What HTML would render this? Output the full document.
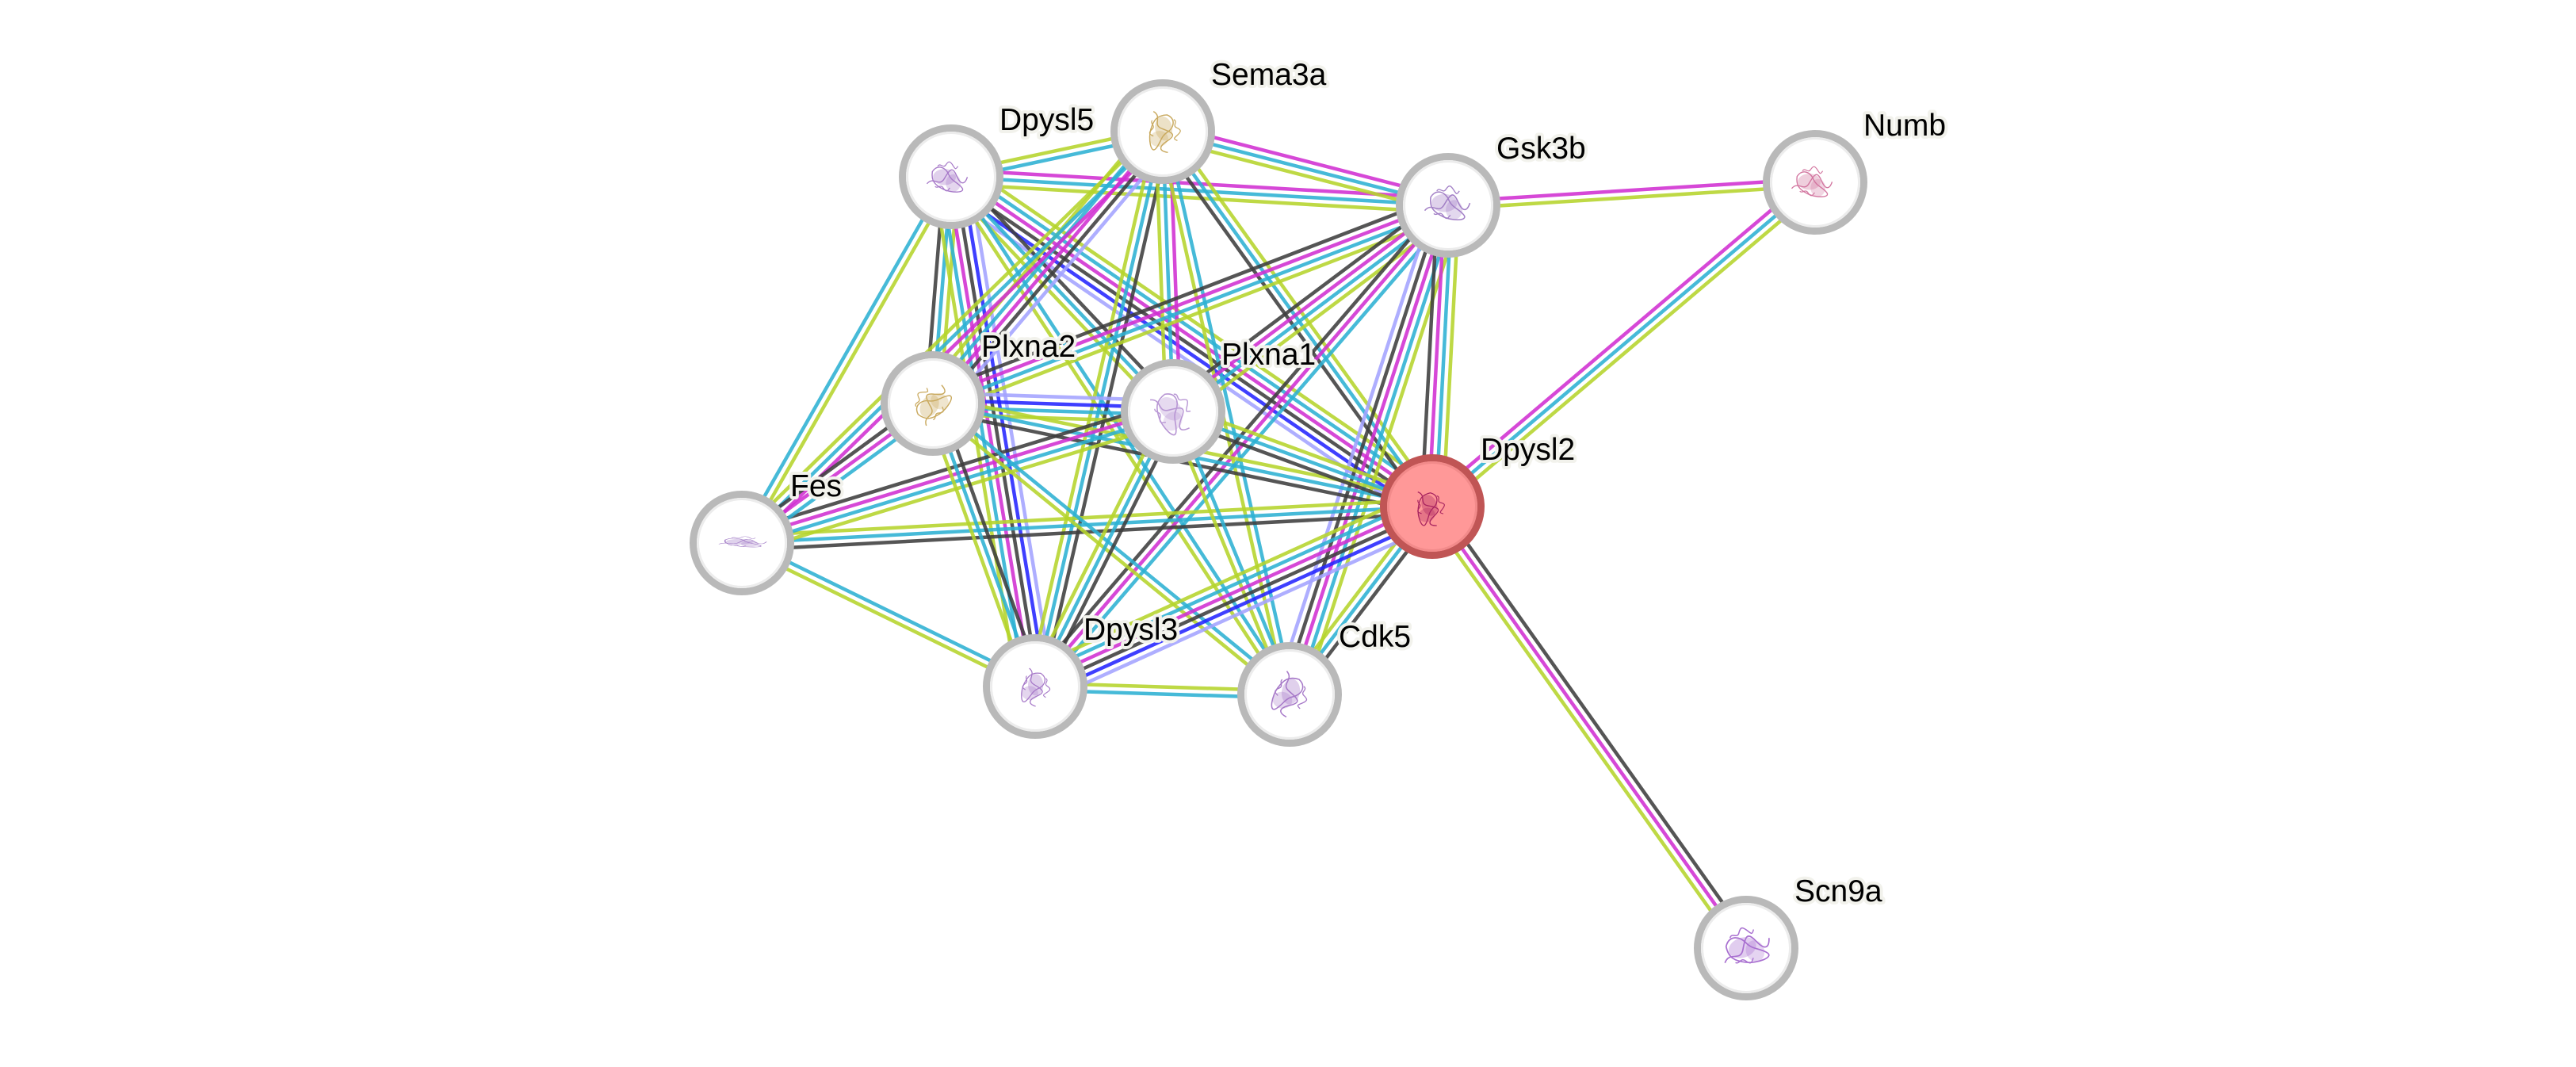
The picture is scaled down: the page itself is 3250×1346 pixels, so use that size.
<!DOCTYPE html>
<html>
<head>
<meta charset="utf-8">
<style>
  html,body{margin:0;padding:0;background:#ffffff;}
  body{width:3250px;height:1346px;overflow:hidden;}
  svg{display:block;}
  line{stroke-width:4.5;stroke-opacity:.88;stroke-linecap:butt;}
  .L{stroke:#a3a3ff}
  .B{stroke:#2424ff}
  .K{stroke:#3e3e3e}
  .M{stroke:#d02fd2}
  .C{stroke:#2cb0d3}
  .Y{stroke:#b5d42b}
  .node{fill:#ffffff;stroke:#b9b9b9;stroke-width:9}
  .inner{fill:none;stroke:#ececec;stroke-width:3}
  .lbl{font-family:"Liberation Sans",Arial,sans-serif;font-size:39px;fill:#000;stroke:#f2f2ec;stroke-width:8px;stroke-linejoin:round;paint-order:stroke;}
</style>
</head>
<body>
<svg width="3250" height="1346" viewBox="0 0 3250 1346" xmlns="http://www.w3.org/2000/svg">
<defs>
  <g id="prot">
    <ellipse cx="-4" cy="-2" rx="17" ry="12" fill="currentColor" opacity=".35"/>
    <ellipse cx="9" cy="7" rx="11" ry="13" fill="currentColor" opacity=".3"/>
    <path d="M-30,8 C-20,-4 -12,14 -4,0 S8,-18 14,-4 S26,10 30,-2" fill="none" stroke="currentColor" stroke-width="1.6"/>
    <path d="M-22,-10 C-14,-22 -2,-16 2,-6 S16,6 22,14 S6,22 -6,16 S-24,4 -22,-10Z" fill="none" stroke="currentColor" stroke-width="1.6"/>
    <path d="M-14,-18 c4,-6 8,4 12,-2 s6,-6 10,0 s4,8 8,2 M-18,12 c4,4 8,-4 12,2 s6,6 10,0" fill="none" stroke="currentColor" stroke-width="1.4"/>
  </g>
</defs>

<!-- EDGES -->
<!-- 1 Gsk3b-Numb -->
<g transform="translate(1827,259) rotate(-3.58)">
  <line class="M" x1="0" y1="-4.5" x2="464" y2="-4.5"/><line class="Y" x1="0" y1="4.5" x2="464" y2="4.5"/>
</g>
<!-- 2 Dpysl2-Numb -->
<g transform="translate(1807,639) rotate(-40.26)">
  <line class="M" x1="0" y1="-9" x2="633" y2="-9"/><line class="C" x1="0" y1="0" x2="633" y2="0"/><line class="Y" x1="0" y1="9" x2="633" y2="9"/>
</g>
<!-- 3 Dpysl2-Scn9a -->
<g transform="translate(1807,639) rotate(54.59)">
  <line class="K" x1="0" y1="-9" x2="683" y2="-9"/><line class="M" x1="0" y1="0" x2="683" y2="0"/><line class="Y" x1="0" y1="9" x2="683" y2="9"/>
</g>
<!-- 4 Sema3a-Dpysl5 -->
<g transform="translate(1467,166) rotate(167.95)">
  <line class="C" x1="0" y1="-4.5" x2="273" y2="-4.5"/><line class="Y" x1="0" y1="4.5" x2="273" y2="4.5"/>
</g>
<!-- 5 Dpysl5-Gsk3b -->
<g transform="translate(1200,223) rotate(3.29)">
  <line class="M" x1="0" y1="-9" x2="628" y2="-9"/><line class="C" x1="0" y1="0" x2="628" y2="0"/><line class="Y" x1="0" y1="9" x2="628" y2="9"/>
</g>
<!-- 6 Sema3a-Gsk3b -->
<g transform="translate(1467,166) rotate(14.48)">
  <line class="M" x1="0" y1="-9" x2="372" y2="-9"/><line class="C" x1="0" y1="0" x2="372" y2="0"/><line class="Y" x1="0" y1="9" x2="372" y2="9"/>
</g>
<!-- 7 Fes-Dpysl5 -->
<g transform="translate(936,685) rotate(-60.26)">
  <line class="C" x1="0" y1="-4.5" x2="532" y2="-4.5"/><line class="Y" x1="0" y1="4.5" x2="532" y2="4.5"/>
</g>
<!-- 8 Fes-Dpysl3 -->
<g transform="translate(936,685) rotate(26.07)">
  <line class="C" x1="0" y1="-4.5" x2="412" y2="-4.5"/><line class="Y" x1="0" y1="4.5" x2="412" y2="4.5"/>
</g>
<!-- 9 Cdk5-Dpysl3 -->
<g transform="translate(1627,876) rotate(-178.22)">
  <line class="C" x1="0" y1="-4.5" x2="321" y2="-4.5"/><line class="Y" x1="0" y1="4.5" x2="321" y2="4.5"/>
</g>
<!-- 10 Plxna2-Dpysl5 -->
<g transform="translate(1177,509) rotate(-85.40)">
  <line class="K" x1="0" y1="-9" x2="287" y2="-9"/><line class="C" x1="0" y1="0" x2="287" y2="0"/><line class="Y" x1="0" y1="9" x2="287" y2="9"/>
</g>
<!-- 11 Dpysl5-Dpysl3 -->
<g transform="translate(1200,223) rotate(80.64)">
  <line class="L" x1="0" y1="-22.5" x2="652" y2="-22.5"/><line class="B" x1="0" y1="-13.5" x2="652" y2="-13.5"/><line class="K" x1="0" y1="-4.5" x2="652" y2="-4.5"/><line class="M" x1="0" y1="4.5" x2="652" y2="4.5"/><line class="C" x1="0" y1="13.5" x2="652" y2="13.5"/><line class="Y" x1="0" y1="22.5" x2="652" y2="22.5"/>
</g>
<!-- 12 Dpysl2-Dpysl5 -->
<g transform="translate(1807,639) rotate(-145.58)">
  <line class="L" x1="0" y1="-22.5" x2="736" y2="-22.5"/><line class="B" x1="0" y1="-13.5" x2="736" y2="-13.5"/><line class="K" x1="0" y1="-4.5" x2="736" y2="-4.5"/><line class="M" x1="0" y1="4.5" x2="736" y2="4.5"/><line class="C" x1="0" y1="13.5" x2="736" y2="13.5"/><line class="Y" x1="0" y1="22.5" x2="736" y2="22.5"/>
</g>
<!-- 13 Dpysl5-Plxna1 -->
<g transform="translate(1200,223) rotate(46.59)">
  <line class="K" x1="0" y1="-9" x2="407" y2="-9"/><line class="C" x1="0" y1="0" x2="407" y2="0"/><line class="Y" x1="0" y1="9" x2="407" y2="9"/>
</g>
<!-- 14 Dpysl5-Cdk5 -->
<g transform="translate(1200,223) rotate(56.82)">
  <line class="C" x1="0" y1="-4.5" x2="780" y2="-4.5"/><line class="Y" x1="0" y1="4.5" x2="780" y2="4.5"/>
</g>
<!-- 15 Sema3a-Plxna2 -->
<g transform="translate(1467,166) rotate(130.21)">
  <line class="L" x1="0" y1="-18" x2="449" y2="-18"/><line class="K" x1="0" y1="-9" x2="449" y2="-9"/><line class="M" x1="0" y1="0" x2="449" y2="0"/><line class="C" x1="0" y1="9" x2="449" y2="9"/><line class="Y" x1="0" y1="18" x2="449" y2="18"/>
</g>
<!-- 16 Sema3a-Fes -->
<g transform="translate(1467,166) rotate(135.65)">
  <line class="M" x1="0" y1="-9" x2="743" y2="-9"/><line class="C" x1="0" y1="0" x2="743" y2="0"/><line class="Y" x1="0" y1="9" x2="743" y2="9"/>
</g>
<!-- 17 Sema3a-Dpysl3 -->
<g transform="translate(1467,166) rotate(102.95)">
  <line class="K" x1="0" y1="-9" x2="718" y2="-9"/><line class="C" x1="0" y1="0" x2="718" y2="0"/><line class="Y" x1="0" y1="9" x2="718" y2="9"/>
</g>
<!-- 18 Sema3a-Plxna1 -->
<g transform="translate(1467,166) rotate(87.89)">
  <line class="M" x1="0" y1="-9" x2="353" y2="-9"/><line class="C" x1="0" y1="0" x2="353" y2="0"/><line class="Y" x1="0" y1="9" x2="353" y2="9"/>
</g>
<!-- 19 Sema3a-Cdk5 -->
<g transform="translate(1467,166) rotate(77.30)">
  <line class="C" x1="0" y1="-4.5" x2="728" y2="-4.5"/><line class="Y" x1="0" y1="4.5" x2="728" y2="4.5"/>
</g>
<!-- 20 Dpysl2-Sema3a -->
<g transform="translate(1807,639) rotate(-125.71)">
  <line class="K" x1="0" y1="-9" x2="583" y2="-9"/><line class="C" x1="0" y1="0" x2="583" y2="0"/><line class="Y" x1="0" y1="9" x2="583" y2="9"/>
</g>
<!-- 21 Plxna2-Gsk3b -->
<g transform="translate(1177,509) rotate(-21.04)">
  <line class="K" x1="0" y1="-13.5" x2="696" y2="-13.5"/><line class="M" x1="0" y1="-4.5" x2="696" y2="-4.5"/><line class="C" x1="0" y1="4.5" x2="696" y2="4.5"/><line class="Y" x1="0" y1="13.5" x2="696" y2="13.5"/>
</g>
<!-- 22 Plxna1-Gsk3b -->
<g transform="translate(1480,519) rotate(-36.84)">
  <line class="K" x1="0" y1="-13.5" x2="434" y2="-13.5"/><line class="M" x1="0" y1="-4.5" x2="434" y2="-4.5"/><line class="C" x1="0" y1="4.5" x2="434" y2="4.5"/><line class="Y" x1="0" y1="13.5" x2="434" y2="13.5"/>
</g>
<!-- 23 Dpysl3-Gsk3b -->
<g transform="translate(1306,866) rotate(-49.36)">
  <line class="K" x1="0" y1="-9" x2="800" y2="-9"/><line class="M" x1="0" y1="0" x2="800" y2="0"/><line class="C" x1="0" y1="9" x2="800" y2="9"/>
</g>
<!-- 24 Cdk5-Gsk3b -->
<g transform="translate(1627,876) rotate(-72.04)">
  <line class="L" x1="0" y1="-18" x2="649" y2="-18"/><line class="K" x1="0" y1="-9" x2="649" y2="-9"/><line class="M" x1="0" y1="0" x2="649" y2="0"/><line class="C" x1="0" y1="9" x2="649" y2="9"/><line class="Y" x1="0" y1="18" x2="649" y2="18"/>
</g>
<!-- 25 Dpysl2-Gsk3b -->
<g transform="translate(1807,639) rotate(-86.99)">
  <line class="K" x1="0" y1="-13.5" x2="381" y2="-13.5"/><line class="M" x1="0" y1="-4.5" x2="381" y2="-4.5"/><line class="C" x1="0" y1="4.5" x2="381" y2="4.5"/><line class="Y" x1="0" y1="13.5" x2="381" y2="13.5"/>
</g>
<!-- 26 Plxna2-Plxna1 -->
<g transform="translate(1177,509) rotate(1.89)">
  <line class="L" x1="0" y1="-13.5" x2="303" y2="-13.5"/><line class="B" x1="0" y1="-4.5" x2="303" y2="-4.5"/><line class="C" x1="0" y1="4.5" x2="303" y2="4.5"/><line class="Y" x1="0" y1="13.5" x2="303" y2="13.5"/>
</g>
<!-- 27 Dpysl2-Plxna2 -->
<g transform="translate(1807,639) rotate(-168.34)">
  <line class="K" x1="0" y1="-9" x2="643" y2="-9"/><line class="C" x1="0" y1="0" x2="643" y2="0"/><line class="Y" x1="0" y1="9" x2="643" y2="9"/>
</g>
<!-- 28 Dpysl2-Plxna1 -->
<g transform="translate(1807,639) rotate(-159.85)">
  <line class="K" x1="0" y1="-9" x2="348" y2="-9"/><line class="C" x1="0" y1="0" x2="348" y2="0"/><line class="Y" x1="0" y1="9" x2="348" y2="9"/>
</g>
<!-- 29 Dpysl2-Fes -->
<g transform="translate(1807,639) rotate(176.98)">
  <line class="K" x1="0" y1="-9" x2="872" y2="-9"/><line class="C" x1="0" y1="0" x2="872" y2="0"/><line class="Y" x1="0" y1="9" x2="872" y2="9"/>
</g>
<!-- 30 Fes-Plxna1 -->
<g transform="translate(936,685) rotate(-16.97)">
  <line class="K" x1="0" y1="-13.5" x2="569" y2="-13.5"/><line class="M" x1="0" y1="-4.5" x2="569" y2="-4.5"/><line class="C" x1="0" y1="4.5" x2="569" y2="4.5"/><line class="Y" x1="0" y1="13.5" x2="569" y2="13.5"/>
</g>
<!-- 31 Fes-Plxna2 -->
<g transform="translate(936,685) rotate(-36.14)">
  <line class="K" x1="0" y1="-9" x2="298" y2="-9"/><line class="M" x1="0" y1="0" x2="298" y2="0"/><line class="C" x1="0" y1="9" x2="298" y2="9"/>
</g>
<!-- 32 Plxna2-Cdk5 -->
<g transform="translate(1177,509) rotate(39.20)">
  <line class="C" x1="0" y1="-4.5" x2="581" y2="-4.5"/><line class="Y" x1="0" y1="4.5" x2="581" y2="4.5"/>
</g>
<!-- 33 Plxna2-Dpysl3 -->
<g transform="translate(1177,509) rotate(70.13)">
  <line class="K" x1="0" y1="-9" x2="380" y2="-9"/><line class="C" x1="0" y1="0" x2="380" y2="0"/><line class="Y" x1="0" y1="9" x2="380" y2="9"/>
</g>
<!-- 34 Plxna1-Dpysl3 -->
<g transform="translate(1480,519) rotate(116.63)">
  <line class="K" x1="0" y1="-9" x2="388" y2="-9"/><line class="C" x1="0" y1="0" x2="388" y2="0"/><line class="Y" x1="0" y1="9" x2="388" y2="9"/>
</g>
<!-- 35 Plxna1-Cdk5 -->
<g transform="translate(1480,519) rotate(67.62)">
  <line class="C" x1="0" y1="-4.5" x2="386" y2="-4.5"/><line class="Y" x1="0" y1="4.5" x2="386" y2="4.5"/>
</g>
<!-- 36 Dpysl2-Cdk5 -->
<g transform="translate(1807,639) rotate(127.21)">
  <line class="K" x1="0" y1="-9" x2="298" y2="-9"/><line class="C" x1="0" y1="0" x2="298" y2="0"/><line class="Y" x1="0" y1="9" x2="298" y2="9"/>
</g>
<!-- 37 Dpysl2-Dpysl3 -->
<g transform="translate(1807,639) rotate(155.62)">
  <line class="L" x1="0" y1="-22.5" x2="550" y2="-22.5"/><line class="B" x1="0" y1="-13.5" x2="550" y2="-13.5"/><line class="K" x1="0" y1="-4.5" x2="550" y2="-4.5"/><line class="M" x1="0" y1="4.5" x2="550" y2="4.5"/><line class="C" x1="0" y1="13.5" x2="550" y2="13.5"/><line class="Y" x1="0" y1="22.5" x2="550" y2="22.5"/>
</g>

<!-- NODES -->
<g>
  <circle class="node" cx="1200" cy="223" r="61.5"/><circle class="inner" cx="1200" cy="223" r="55.5"/>
  <use href="#prot" transform="translate(1195,225) scale(0.85)" color="#a678c8"/>

  <circle class="node" cx="1467" cy="166" r="61.5"/><circle class="inner" cx="1467" cy="166" r="55.5"/>
  <use href="#prot" transform="translate(1467,166) rotate(80) scale(0.9)" color="#c9a95e"/>

  <circle class="node" cx="1827" cy="259" r="61.5"/><circle class="inner" cx="1827" cy="259" r="55.5"/>
  <use href="#prot" transform="translate(1826,258) scale(0.95)" color="#a27fc6"/>

  <circle class="node" cx="2290" cy="230" r="61.5"/><circle class="inner" cx="2290" cy="230" r="55.5"/>
  <use href="#prot" transform="translate(2286,231) scale(0.85)" color="#d2759f"/>

  <circle class="node" cx="1177" cy="509" r="61.5"/><circle class="inner" cx="1177" cy="509" r="55.5"/>
  <use href="#prot" transform="translate(1176,510) rotate(-60) scale(0.9)" color="#c9a95e"/>

  <circle class="node" cx="1480" cy="519" r="61.5"/><circle class="inner" cx="1480" cy="519" r="55.5"/>
  <use href="#prot" transform="translate(1478,520) rotate(45) scale(1.0)" color="#b896d4"/>

  <circle cx="1807" cy="639" r="61.5" fill="#ff9898" stroke="#c05555" stroke-width="9"/>
  <circle cx="1807" cy="639" r="55.5" fill="none" stroke="#f28a8a" stroke-width="3"/>
  <use href="#prot" transform="translate(1803,641) rotate(70) scale(0.8)" color="#a8235f"/>

  <circle class="node" cx="936" cy="685" r="61.5"/><circle class="inner" cx="936" cy="685" r="55.5"/>
  <use href="#prot" transform="translate(937,684) scale(1.0,0.3)" color="#a47fc8"/>

  <circle class="node" cx="1306" cy="866" r="61.5"/><circle class="inner" cx="1306" cy="866" r="55.5"/>
  <use href="#prot" transform="translate(1305,867) rotate(90) scale(0.8)" color="#a678c8"/>

  <circle class="node" cx="1627" cy="876" r="61.5"/><circle class="inner" cx="1627" cy="876" r="55.5"/>
  <use href="#prot" transform="translate(1626,876) rotate(100) scale(0.95)" color="#a678c8"/>

  <circle class="node" cx="2203" cy="1196" r="61.5"/><circle class="inner" cx="2203" cy="1196" r="55.5"/>
  <use href="#prot" transform="translate(2203,1196) rotate(-20) scale(1.05)" color="#a86fd0"/>
</g>

<!-- LABELS -->
<g>
  <text class="lbl" x="1261" y="164">Dpysl5</text>
  <text class="lbl" x="1528" y="107">Sema3a</text>
  <text class="lbl" x="1888" y="200">Gsk3b</text>
  <text class="lbl" x="2351" y="171">Numb</text>
  <text class="lbl" x="1238" y="450">Plxna2</text>
  <text class="lbl" x="1541" y="460">Plxna1</text>
  <text class="lbl" x="1868" y="580">Dpysl2</text>
  <text class="lbl" x="997" y="626">Fes</text>
  <text class="lbl" x="1367" y="807">Dpysl3</text>
  <text class="lbl" x="1689" y="816">Cdk5</text>
  <text class="lbl" x="2264" y="1137">Scn9a</text>
</g>
</svg>
</body>
</html>
